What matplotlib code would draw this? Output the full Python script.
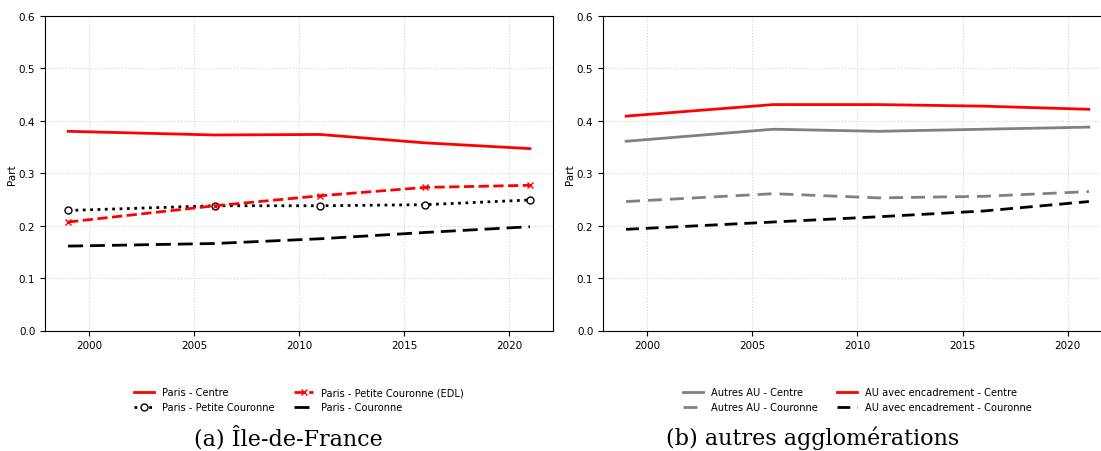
import numpy as np
import matplotlib.pyplot as plt

plt.rcParams.update({'font.size': 7.5})

# years of the census points
years = [1999, 2006, 2011, 2016, 2021]

# (a) Ile-de-France
paris_centre = [0.380, 0.373, 0.374, 0.358, 0.347]
paris_pc = [0.229, 0.238, 0.238, 0.240, 0.249]
paris_pc_edl = [0.207, 0.238, 0.257, 0.273, 0.277]
paris_couronne = [0.161, 0.166, 0.175, 0.187, 0.198]

# (b) autres agglomerations
autres_centre = [0.361, 0.384, 0.380, 0.384, 0.388]
autres_couronne = [0.246, 0.261, 0.253, 0.256, 0.265]
encadr_centre = [0.409, 0.431, 0.431, 0.428, 0.422]
encadr_couronne = [0.193, 0.207, 0.217, 0.228, 0.246]

captions = ["(a) Île-de-France", "(b) autres agglomérations"]

fig = plt.figure(figsize=(11.01, 4.52), dpi=100)
ax1 = fig.add_axes([45 / 1101, 1 - 331.5 / 452, 508 / 1101, 314.5 / 452])
ax2 = fig.add_axes([603 / 1101, 1 - 331.5 / 452, 509 / 1101, 314.5 / 452])

lw = 2
ax1.plot(years, paris_centre, color='red', lw=lw, label='Paris - Centre')
ax1.plot(years, paris_pc, color='black', lw=lw, ls=':', marker='o', ms=5,
         mfc='white', mec='black', mew=1, label='Paris - Petite Couronne')
ax1.plot(years, paris_pc_edl, color='red', lw=lw, ls='--', marker='x', ms=5,
         mew=1, label='Paris - Petite Couronne (EDL)')
ax1.plot(years, paris_couronne, color='black', lw=lw, dashes=(5.4, 2.5),
         label='Paris - Couronne')

ax2.plot(years, autres_centre, color='gray', lw=lw, label='Autres AU - Centre')
ax2.plot(years, autres_couronne, color='gray', lw=lw, dashes=(5, 2.9),
         label='Autres AU - Couronne')
ax2.plot(years, encadr_centre, color='red', lw=lw, label='AU avec encadrement - Centre')
ax2.plot(years, encadr_couronne, color='black', lw=lw, dashes=(4.6, 2.5),
         label='AU avec encadrement - Couronne')

for ax in (ax1, ax2):
    ax.set_ylim(0, 0.6)
    ax.set_yticks(np.arange(0, 0.61, 0.1))
    ax.set_xticks([2000, 2005, 2010, 2015, 2020])
    ax.set_ylabel('Part', labelpad=1)
    ax.grid(True, ls=':', color='lightgray', lw=0.8)
    ax.legend(loc='upper center', bbox_to_anchor=(0.5, -0.152), ncol=2,
              frameon=False, fontsize=7.1)

fig.text(288 / 1101, 1 - 438 / 452, captions[0], ha='center', va='center',
         fontsize=16, family='DejaVu Serif')
fig.text(813 / 1101, 1 - 438 / 452, captions[1], ha='center', va='center',
         fontsize=16, family='DejaVu Serif')

fig.savefig('out.png', dpi=100)
